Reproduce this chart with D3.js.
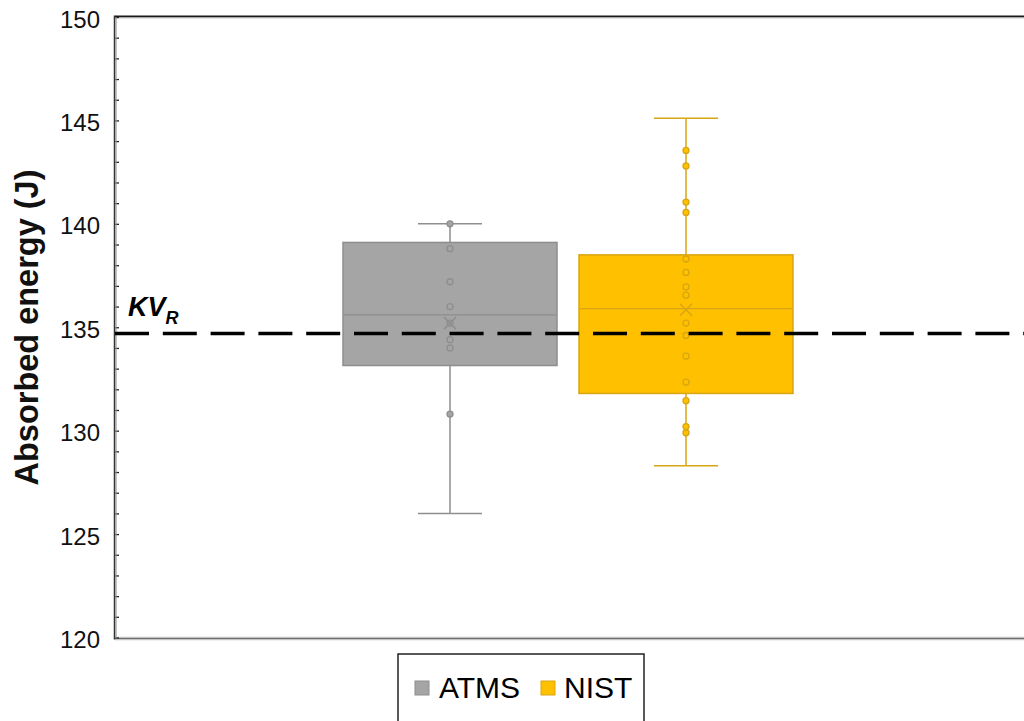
<!DOCTYPE html>
<html>
<head>
<meta charset="utf-8">
<script src="https://cdn.jsdelivr.net/npm/d3@7/dist/d3.min.js"></script>
<style>
  html, body { margin: 0; padding: 0; background: #fff; }
  svg { display: block; }
  text { font-family: "Liberation Sans", Arial, sans-serif; }
</style>
</head>
<body>
<svg id="chart" width="1024" height="721"></svg>
<script>
// Series names and colours
const categories = ["ATMS", "NIST"];
const fillColors = ["#a5a5a5", "#ffc000"];
const strokeColors = ["#8e8e8e", "#d8a514"];

// Box statistics per series (J): [whiskerLow, q1, median, q3, whiskerHigh]
const boxStats = [
  [126.0, 133.15, 135.6, 139.1, 140.0],
  [128.3, 131.8, 135.9, 138.5, 145.1]
];
const means = [135.2, 135.85];

// Individual test results plotted on each box (J)
const atmsPoints = [140.0, 138.8, 137.2, 136.0, 135.2, 134.4, 134.0, 130.8];
const nistPoints = [143.55, 142.8, 141.05, 140.55, 138.3, 137.65, 136.95, 136.55,
                    135.2, 134.6, 133.6, 132.35, 131.45, 130.2, 129.9];
const pointSets = [atmsPoints, nistPoints];

// Reference value KV_R
const referenceValue = 134.7;

// Axis ticks
const yMajorTicks = [120, 125, 130, 135, 140, 145, 150];
const yMinorTicks = d3.range(120, 151, 1);

const svg = d3.select("#chart");

const plotLeft = 115, plotRight = 1030, plotTop = 17, plotBottom = 637.5;

const y = d3.scaleLinear().domain([120, 150]).range([plotBottom, plotTop]);
const x = d3.scaleBand().domain(categories).range([332, 804]).paddingInner(0).paddingOuter(0);
const boxWidth = x.bandwidth() - 22;
const capWidth = 64;

// Plot frame: top border and bottom baseline
svg.append("line").attr("x1", plotLeft).attr("x2", plotRight)
  .attr("y1", plotTop - 0.5).attr("y2", plotTop - 0.5)
  .attr("stroke", "#1a1a1a").attr("stroke-width", 2);
svg.append("line").attr("x1", plotLeft).attr("x2", plotRight)
  .attr("y1", plotTop + 1).attr("y2", plotTop + 1)
  .attr("stroke", "#c8c8c8").attr("stroke-width", 1);
svg.append("line").attr("x1", plotLeft).attr("x2", plotRight)
  .attr("y1", plotBottom + 1).attr("y2", plotBottom + 1)
  .attr("stroke", "#e2e2e2").attr("stroke-width", 4);
svg.append("line").attr("x1", plotLeft).attr("x2", plotRight)
  .attr("y1", plotBottom + 1).attr("y2", plotBottom + 1)
  .attr("stroke", "#6e6e6e").attr("stroke-width", 1.5);

// Left axis with inside ticks every 1 J
const yAxis = d3.axisRight(y).tickValues(yMinorTicks).tickSize(4).tickFormat("");
const axisG = svg.append("g").attr("transform", `translate(${plotLeft},0)`).call(yAxis);
axisG.select(".domain").remove();
axisG.selectAll(".tick line").attr("stroke", "#222").attr("stroke-width", 1.3);
svg.append("line").attr("x1", plotLeft - 0.5).attr("x2", plotLeft - 0.5)
  .attr("y1", plotTop - 1.5).attr("y2", plotBottom + 2)
  .attr("stroke", "#333").attr("stroke-width", 1.5);
svg.append("line").attr("x1", plotLeft + 1).attr("x2", plotLeft + 1)
  .attr("y1", plotTop).attr("y2", plotBottom + 1)
  .attr("stroke", "#9a9a9a").attr("stroke-width", 1.2);

// Major tick labels
const labelAxis = d3.axisLeft(y).tickValues(yMajorTicks).tickSize(0).tickPadding(15).tickFormat(d3.format("d"));
const labelG = svg.append("g").attr("transform", `translate(${plotLeft},0)`).call(labelAxis);
labelG.select(".domain").remove();
labelG.selectAll("text")
  .attr("font-family", "'Liberation Sans', Arial, sans-serif")
  .attr("font-size", 24).attr("fill", "#111").attr("dy", "0.42em");

// Y axis title
svg.append("text")
  .attr("transform", `translate(38,${(170 + 485) / 2}) rotate(-90)`)
  .attr("text-anchor", "middle")
  .attr("font-size", 32.5).attr("font-weight", "bold").attr("fill", "#111")
  .text("Absorbed energy (J)");

// Box plots
categories.forEach((cat, i) => {
  const [lo, q1, med, q3, hi] = boxStats[i];
  const cx = x(cat) + x.bandwidth() / 2;
  const g = svg.append("g");
  const stroke = strokeColors[i];

  // whisker stems and caps
  g.append("line").attr("x1", cx).attr("x2", cx).attr("y1", y(hi)).attr("y2", y(q3))
    .attr("stroke", stroke).attr("stroke-width", 1.5);
  g.append("line").attr("x1", cx).attr("x2", cx).attr("y1", y(q1)).attr("y2", y(lo))
    .attr("stroke", stroke).attr("stroke-width", 1.5);
  [lo, hi].forEach(v => {
    g.append("line").attr("x1", cx - capWidth / 2).attr("x2", cx + capWidth / 2)
      .attr("y1", y(v)).attr("y2", y(v))
      .attr("stroke", stroke).attr("stroke-width", 1.5);
  });

  // box
  g.append("rect")
    .attr("x", cx - boxWidth / 2).attr("width", boxWidth)
    .attr("y", y(q3)).attr("height", y(q1) - y(q3))
    .attr("fill", fillColors[i]).attr("stroke", stroke).attr("stroke-width", 1.5);

  // median
  g.append("line").attr("x1", cx - boxWidth / 2).attr("x2", cx + boxWidth / 2)
    .attr("y1", y(med)).attr("y2", y(med))
    .attr("stroke", stroke).attr("stroke-width", 1.3);

  // data points
  g.selectAll("circle").data(pointSets[i]).join("circle")
    .attr("cx", cx).attr("cy", d => y(d)).attr("r", 3)
    .attr("fill", fillColors[i]).attr("stroke", stroke).attr("stroke-width", 1.3);

  // mean marker
  const m = y(means[i]), s = 6;
  g.append("path")
    .attr("d", `M${cx - s},${m - s}L${cx + s},${m + s}M${cx - s},${m + s}L${cx + s},${m - s}`)
    .attr("stroke", stroke).attr("stroke-width", 1.5).attr("fill", "none");
});

// Reference line KV_R
svg.append("line")
  .attr("x1", plotLeft).attr("x2", plotRight)
  .attr("y1", y(referenceValue)).attr("y2", y(referenceValue))
  .attr("stroke", "#000").attr("stroke-width", 3.5)
  .attr("stroke-dasharray", "34,13.8");

const kv = svg.append("text")
  .attr("x", 128).attr("y", 316)
  .attr("font-size", 27).attr("font-weight", "bold").attr("font-style", "italic")
  .attr("fill", "#000");
kv.append("tspan").text("KV");
kv.append("tspan").attr("font-size", 18).attr("dy", 8).text("R");

// Legend
const legend = svg.append("g");
legend.append("rect")
  .attr("x", 398).attr("y", 654).attr("width", 246).attr("height", 80)
  .attr("fill", "#fff").attr("stroke", "#222").attr("stroke-width", 1.5);
const legendX = [415, 541];
const legendTextX = [439, 564];
categories.forEach((cat, i) => {
  legend.append("rect")
    .attr("x", legendX[i]).attr("y", 681).attr("width", 14).attr("height", 14)
    .attr("fill", fillColors[i]).attr("stroke", strokeColors[i]).attr("stroke-width", 1);
  legend.append("text")
    .attr("x", legendTextX[i]).attr("y", 697.5)
    .attr("font-size", 30).attr("fill", "#000")
    .text(cat);
});
</script>
</body>
</html>
